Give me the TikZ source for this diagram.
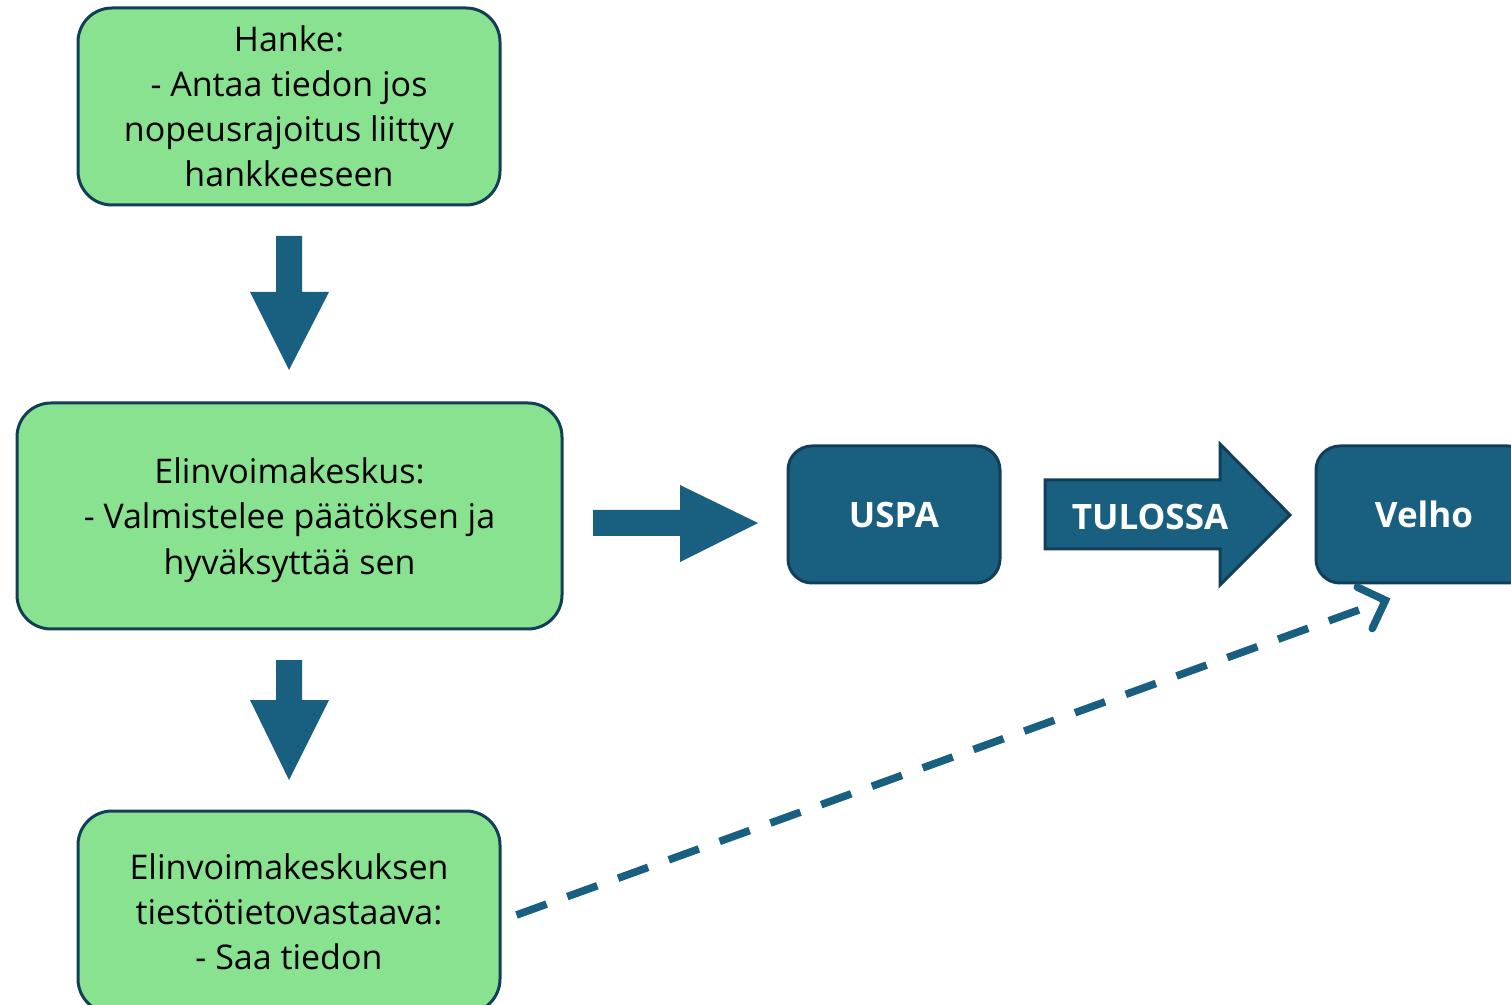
\documentclass[tikz,border=0pt]{standalone}
\usepackage{fontspec}
\setmainfont{Open Sans}
\usetikzlibrary{calc, arrows.meta}

\definecolor{boxgreen}{HTML}{88E28F}
\definecolor{deepblue}{HTML}{185F80}
\definecolor{edgeblue}{HTML}{123F57}

\tikzset{
	greenbox/.style={draw=edgeblue, fill=boxgreen, line width=1.5pt, rounded corners=17pt, align=center, inner sep=0pt, font=\fontsize{17}{22.5}\selectfont},
	bluebox/.style={draw=edgeblue, fill=deepblue, line width=1.5pt, rounded corners=12pt, align=center, inner sep=0pt, text=white, font=\fontsize{17.5}{20}\selectfont\bfseries},
	blockarrow/.style={fill=deepblue},
	dashlink/.style={deepblue, line width=3.8pt, dash pattern=on 16pt off 11pt, -{Straight Barb[length=11pt, width=22pt, line cap=round]}}
}

\begin{document}
\begin{tikzpicture}[x=0.5pt, y=-0.5pt]
	\useasboundingbox (0,0) rectangle (1511,1005);
	\clip (0,0) rectangle (1511,1005);

	\node[greenbox, minimum width=211pt, minimum height=98.5pt] (hanke) at (289,106.5) {Hanke:\\- Antaa tiedon jos\\nopeusrajoitus liittyy\\hankkeeseen};
	\node[greenbox, minimum width=272.5pt, minimum height=113pt, text depth=0pt] (elin) at (289.5,516) {};
	\node[align=center, font=\fontsize{17}{22.8}\selectfont] (elintext) at (289.5,520) {Elinvoimakeskus:\\- Valmistelee päätöksen ja\\hyväksyttää sen};
	\node[greenbox, minimum width=211pt, minimum height=101pt] (vastaava) at (289,912) {Elinvoimakeskuksen\\tiestötietovastaava:\\- Saa tiedon};

	\node[bluebox, minimum width=106pt, minimum height=68.5pt] (uspa) at (894,514.5) {USPA};
	\node[bluebox, minimum width=108pt, minimum height=68.5pt] (velho) at (1424,514.5) {Velho};

	\fill[blockarrow] (276,236) -- (302,236) -- (302,292) -- (329,292) -- (289,370) -- (250,292) -- (276,292) -- cycle;
	\fill[blockarrow] (593,510) -- (680,510) -- (680,485) -- (758,523) -- (680,562) -- (680,536) -- (593,536) -- cycle;
	\fill[blockarrow] (276,660) -- (302,660) -- (302,700) -- (329,700) -- (289,780) -- (250,700) -- (276,700) -- cycle;

	\draw[blockarrow, draw=edgeblue, line width=1.5pt] (1045,480) -- (1220,480) -- (1220,444) -- (1290,515) -- (1220,585) -- (1220,549) -- (1045,549) -- cycle;
	\node[text=white, font=\fontsize{17.5}{20}\selectfont\bfseries] (tulossa) at (1150,517) {TULOSSA};

	\coordinate (start) at ($(vastaava.east)+(15,3)$);
	\coordinate (finish) at ($(velho.south west)+(76,14)$);
	\draw[dashlink] (start) -- (finish);

\end{tikzpicture}
\end{document}
